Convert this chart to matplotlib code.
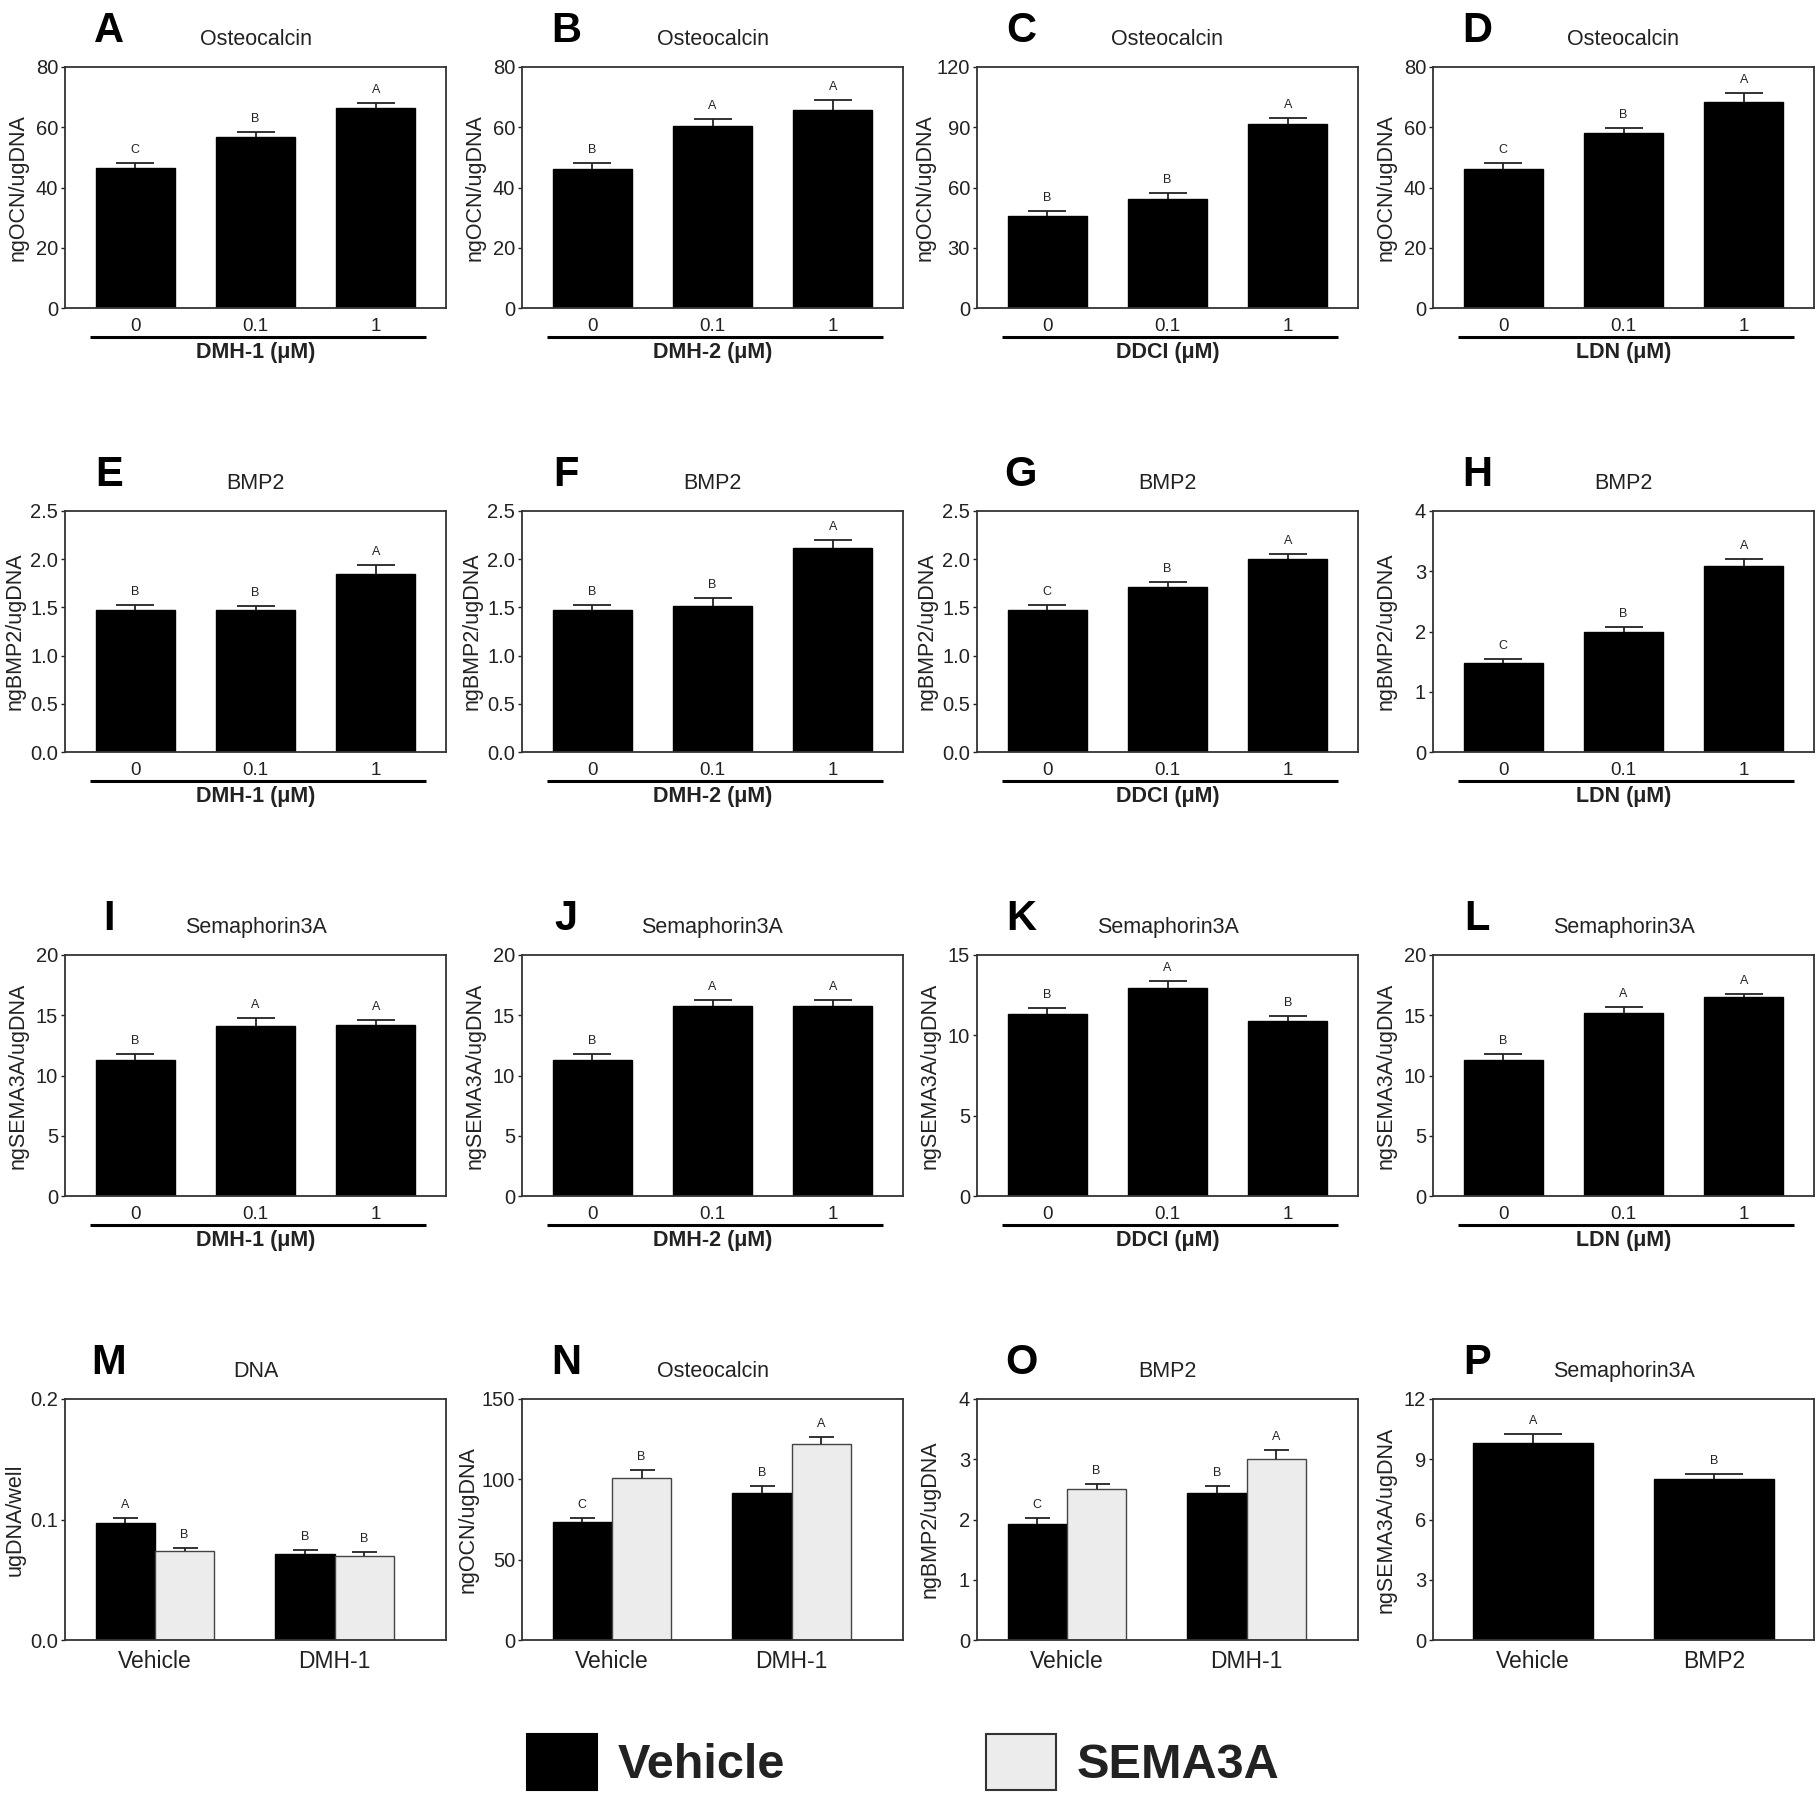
import numpy as np
import matplotlib
matplotlib.use("Agg")
import matplotlib.pyplot as plt
from matplotlib.patches import Patch
from matplotlib.ticker import FormatStrFormatter

plt.rcParams['font.family'] = ['Liberation Sans', 'DejaVu Sans']
plt.rcParams['text.color'] = '#222222'
plt.rcParams['axes.labelcolor'] = '#222222'
plt.rcParams['xtick.color'] = '#222222'
plt.rcParams['ytick.color'] = '#222222'

# ---------------- data ----------------
dose_labels = ['0', '0.1', '1']

ocn_dmh1 = [46.5, 56.8, 66.4]
ocn_dmh1_err = [1.6, 1.6, 1.6]
ocn_dmh1_sig = ['C', 'B', 'A']

ocn_dmh2 = [46.2, 60.3, 65.8]
ocn_dmh2_err = [1.9, 2.5, 3.1]
ocn_dmh2_sig = ['B', 'A', 'A']

ocn_ddci = [46.0, 54.3, 91.4]
ocn_ddci_err = [2.2, 3.0, 3.3]
ocn_ddci_sig = ['B', 'B', 'A']

ocn_ldn = [46.2, 58.2, 68.4]
ocn_ldn_err = [1.9, 1.7, 3.0]
ocn_ldn_sig = ['C', 'B', 'A']

bmp_dmh1 = [1.47, 1.47, 1.85]
bmp_dmh1_err = [0.06, 0.04, 0.09]
bmp_dmh1_sig = ['B', 'B', 'A']

bmp_dmh2 = [1.47, 1.515, 2.12]
bmp_dmh2_err = [0.06, 0.08, 0.08]
bmp_dmh2_sig = ['B', 'B', 'A']

bmp_ddci = [1.47, 1.71, 2.00]
bmp_ddci_err = [0.06, 0.05, 0.05]
bmp_ddci_sig = ['C', 'B', 'A']

bmp_ldn = [1.47, 1.99, 3.08]
bmp_ldn_err = [0.07, 0.09, 0.13]
bmp_ldn_sig = ['C', 'B', 'A']

sema_dmh1 = [11.3, 14.1, 14.2]
sema_dmh1_err = [0.47, 0.7, 0.4]
sema_dmh1_sig = ['B', 'A', 'A']

sema_dmh2 = [11.3, 15.8, 15.8]
sema_dmh2_err = [0.47, 0.43, 0.43]
sema_dmh2_sig = ['B', 'A', 'A']

sema_ddci = [11.3, 12.95, 10.9]
sema_ddci_err = [0.4, 0.45, 0.3]
sema_ddci_sig = ['B', 'A', 'B']

sema_ldn = [11.3, 15.2, 16.5]
sema_ldn_err = [0.47, 0.5, 0.3]
sema_ldn_sig = ['B', 'A', 'A']

group_labels = ['Vehicle', 'DMH-1']

dna_veh = [0.0974, 0.0714]
dna_veh_err = [0.0040, 0.0036]
dna_veh_sig = ['A', 'B']
dna_sema = [0.0741, 0.0697]
dna_sema_err = [0.0022, 0.0036]
dna_sema_sig = ['B', 'B']

ocn2_veh = [73.4, 91.7]
ocn2_veh_err = [2.7, 4.4]
ocn2_veh_sig = ['C', 'B']
ocn2_sema = [100.7, 121.7]
ocn2_sema_err = [5.0, 4.4]
ocn2_sema_sig = ['B', 'A']

bmp2_veh = [1.925, 2.447]
bmp2_veh_err = [0.095, 0.105]
bmp2_veh_sig = ['C', 'B']
bmp2_sema = [2.513, 3.01]
bmp2_sema_err = [0.084, 0.14]
bmp2_sema_sig = ['B', 'A']

p_labels = ['Vehicle', 'BMP2']
p_sema = [9.79, 8.0]
p_sema_err = [0.46, 0.27]
p_sig = ['A', 'B']

# ---------------- layout ----------------
W, H = 1818, 1800
fig = plt.figure(figsize=(W / 100, H / 100), dpi=100)
col_left = [65, 522, 977, 1433]
row_top = [67, 511, 955, 1399]
AW, AH = 381, 241

BLACK = '#000000'
GREY = '#ececec'


def make_ax(r, c):
    l = col_left[c]
    t = row_top[r]
    return fig.add_axes([l / W, 1 - (t + AH) / H, AW / W, AH / H])


def style_ax(ax, letter, title, ylabel, yticks, fmt, ylab_off=47):
    for s in ax.spines.values():
        s.set_color('#333333')
        s.set_linewidth(1.3)
    ax.set_ylim(yticks[0], yticks[-1])
    ax.set_yticks(yticks)
    if fmt:
        ax.yaxis.set_major_formatter(FormatStrFormatter(fmt))
    ax.tick_params(axis='y', length=3, width=1, pad=2, labelsize=14.5, direction='out')
    ax.set_title(title, fontsize=15.5, pad=16)
    ax.text(44 / AW, 1 + 25 / AH, letter, transform=ax.transAxes, ha='center',
            va='baseline', fontsize=30, fontweight='bold', color='black')
    ax.set_ylabel(ylabel, fontsize=15.5, va='center')
    ax.yaxis.set_label_coords(-ylab_off / AW, 0.5)


def bars_with_err(ax, x, vals, errs, sig, width, face, capsize):
    ax.bar(x, vals, width=width, color=face, edgecolor='black' if face == BLACK else '#444444',
           linewidth=1.0, zorder=2)
    eb = ax.errorbar(x, vals, yerr=[np.zeros(len(errs)), errs], fmt='none', ecolor='#222222',
                     elinewidth=1.3, capsize=capsize, capthick=1.3, zorder=3)
    eb[1][0].set_visible(False)
    for xi, v, e, s in zip(x, vals, errs, sig):
        ax.annotate(s, (xi, v + e), xytext=(0, 5), textcoords='offset points',
                    ha='center', va='bottom', fontsize=9)


def dose_panel(r, c, letter, title, ylabel, vals, errs, sig, yticks, fmt, drug, ylab_off=47):
    ax = make_ax(r, c)
    x = np.arange(len(vals))
    bars_with_err(ax, x, vals, errs, sig, 0.655, BLACK, 14)
    ax.set_xlim(-0.585, 2.585)
    ax.set_xticks(x, dose_labels)
    ax.tick_params(axis='x', length=0, pad=7, labelsize=13.5)
    style_ax(ax, letter, title, ylabel, yticks, fmt, ylab_off)
    ax.plot([0.065, 0.948], [-0.12, -0.12], transform=ax.transAxes, clip_on=False,
            color='black', lw=2.2, solid_capstyle='butt')
    ax.text(0.5, -0.183, f'{drug} (\u03bcM)', transform=ax.transAxes, ha='center',
            va='center', fontsize=15.5, fontweight='bold')
    return ax


ocn_ticks = [0, 20, 40, 60, 80]
dose_panel(0, 0, 'A', 'Osteocalcin', 'ngOCN/ugDNA', ocn_dmh1, ocn_dmh1_err, ocn_dmh1_sig, ocn_ticks, None, 'DMH-1')
dose_panel(0, 1, 'B', 'Osteocalcin', 'ngOCN/ugDNA', ocn_dmh2, ocn_dmh2_err, ocn_dmh2_sig, ocn_ticks, None, 'DMH-2')
dose_panel(0, 2, 'C', 'Osteocalcin', 'ngOCN/ugDNA', ocn_ddci, ocn_ddci_err, ocn_ddci_sig, [0, 30, 60, 90, 120], None, 'DDCI', 52)
dose_panel(0, 3, 'D', 'Osteocalcin', 'ngOCN/ugDNA', ocn_ldn, ocn_ldn_err, ocn_ldn_sig, ocn_ticks, None, 'LDN')

bmp_ticks = [0, 0.5, 1.0, 1.5, 2.0, 2.5]
dose_panel(1, 0, 'E', 'BMP2', 'ngBMP2/ugDNA', bmp_dmh1, bmp_dmh1_err, bmp_dmh1_sig, bmp_ticks, '%.1f', 'DMH-1', 50)
dose_panel(1, 1, 'F', 'BMP2', 'ngBMP2/ugDNA', bmp_dmh2, bmp_dmh2_err, bmp_dmh2_sig, bmp_ticks, '%.1f', 'DMH-2', 50)
dose_panel(1, 2, 'G', 'BMP2', 'ngBMP2/ugDNA', bmp_ddci, bmp_ddci_err, bmp_ddci_sig, bmp_ticks, '%.1f', 'DDCI', 50)
dose_panel(1, 3, 'H', 'BMP2', 'ngBMP2/ugDNA', bmp_ldn, bmp_ldn_err, bmp_ldn_sig, [0, 1, 2, 3, 4], None, 'LDN')

sema_ticks = [0, 5, 10, 15, 20]
dose_panel(2, 0, 'I', 'Semaphorin3A', 'ngSEMA3A/ugDNA', sema_dmh1, sema_dmh1_err, sema_dmh1_sig, sema_ticks, None, 'DMH-1')
dose_panel(2, 1, 'J', 'Semaphorin3A', 'ngSEMA3A/ugDNA', sema_dmh2, sema_dmh2_err, sema_dmh2_sig, sema_ticks, None, 'DMH-2')
dose_panel(2, 2, 'K', 'Semaphorin3A', 'ngSEMA3A/ugDNA', sema_ddci, sema_ddci_err, sema_ddci_sig, [0, 5, 10, 15], None, 'DDCI')
dose_panel(2, 3, 'L', 'Semaphorin3A', 'ngSEMA3A/ugDNA', sema_ldn, sema_ldn_err, sema_ldn_sig, sema_ticks, None, 'LDN')


def group_panel(c, letter, title, ylabel, veh, veh_err, veh_sig, sem, sem_err, sem_sig, yticks, fmt, ylab_off=47):
    ax = make_ax(3, c)
    x = np.arange(len(group_labels))
    w = 0.33
    bars_with_err(ax, x - w / 2, veh, veh_err, veh_sig, w, BLACK, 9)
    bars_with_err(ax, x + w / 2, sem, sem_err, sem_sig, w, GREY, 9)
    ax.set_xlim(-0.5, 1.62)
    ax.set_xticks(x, group_labels)
    ax.tick_params(axis='x', length=0, pad=7, labelsize=16.5)
    style_ax(ax, letter, title, ylabel, yticks, fmt, ylab_off)
    return ax


group_panel(0, 'M', 'DNA', 'ugDNA/well', dna_veh, dna_veh_err, dna_veh_sig,
            dna_sema, dna_sema_err, dna_sema_sig, [0, 0.1, 0.2], '%.1f', 50)
group_panel(1, 'N', 'Osteocalcin', 'ngOCN/ugDNA', ocn2_veh, ocn2_veh_err, ocn2_veh_sig,
            ocn2_sema, ocn2_sema_err, ocn2_sema_sig, [0, 50, 100, 150], None, 54)
group_panel(2, 'O', 'BMP2', 'ngBMP2/ugDNA', bmp2_veh, bmp2_veh_err, bmp2_veh_sig,
            bmp2_sema, bmp2_sema_err, bmp2_sema_sig, [0, 1, 2, 3, 4], None)

axp = make_ax(3, 3)
xp = np.arange(len(p_labels))
bars_with_err(axp, xp, p_sema, p_sema_err, p_sig, 0.66, BLACK, 21)
axp.set_xlim(-0.55, 1.55)
axp.set_xticks(xp, p_labels)
axp.tick_params(axis='x', length=0, pad=7, labelsize=16.5)
style_ax(axp, 'P', 'Semaphorin3A', 'ngSEMA3A/ugDNA', [0, 3, 6, 9, 12], None)

# ---------------- legend ----------------
leg_font = {'family': ['Liberation Sans', 'DejaVu Sans'], 'weight': 'bold', 'size': 35}
for name, face, edge, xpos in [('Vehicle', BLACK, 'black', 527 / W),
                               ('SEMA3A', GREY, '#333333', 986 / W)]:
    fig.legend(handles=[Patch(facecolor=face, edgecolor=edge, linewidth=1.5, label=name)],
               loc='center left', bbox_to_anchor=(xpos, 1 - 1762 / H), frameon=False,
               prop=leg_font, handlelength=1.44, handleheight=1.42, handletextpad=0.43,
               borderpad=0, borderaxespad=0)

fig.savefig('out.png', dpi=100, facecolor='white')
